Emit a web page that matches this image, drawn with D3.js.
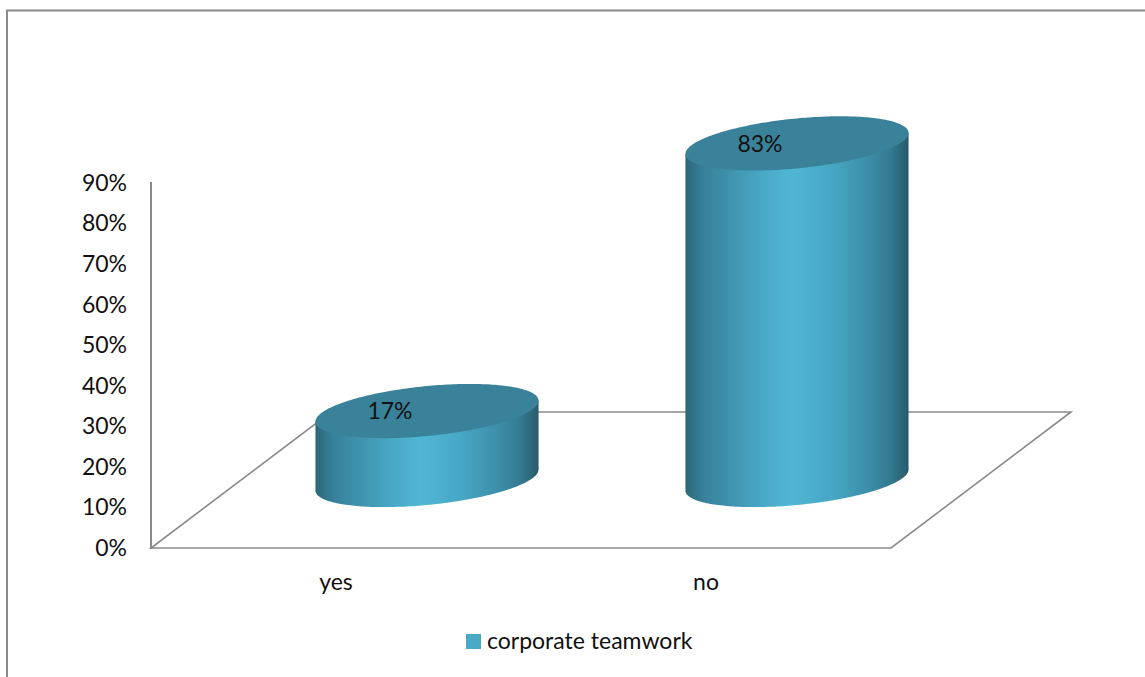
<!DOCTYPE html>
<html>
<head>
<meta charset="utf-8">
<script src="https://cdn.jsdelivr.net/npm/d3@7"></script>
<style>
  html, body { margin: 0; padding: 0; background: #fff; }
  svg { display: block; }
  text { font-family: Lato, "Open Sans", sans-serif; fill: #111; }
</style>
</head>
<body>
<svg id="chart" width="1145" height="677"></svg>
<script>
const categories = ["yes", "no"];
const shares = [0.17, 0.83];
const axisTicks = [0, 0.1, 0.2, 0.3, 0.4, 0.5, 0.6, 0.7, 0.8, 0.9];
const seriesName = "corporate teamwork";

const svg = d3.select("#chart");
const gray = "#8a8a8a";

// Front edge of the floor and the oblique offset of its back edge
const floorLeft = 151, floorRight = 891, floorFront = 548, floorBack = 412;
const depthX = 180, depthY = floorFront - floorBack;

const x = d3.scaleBand().domain(categories).range([floorLeft, floorRight]);
const y = d3.scaleLinear().domain([0, 0.9]).range([floorFront, 183]);

// Horizontal shading of the cylinder wall
const shade = svg.append("defs").append("linearGradient").attr("id", "wall");
[[0, "#2c6778"], [0.08, "#37809a"], [0.2, "#3f93ad"], [0.35, "#49a9c6"], [0.47, "#50b6d5"],
 [0.65, "#47a8c5"], [0.82, "#3d8ea8"], [0.92, "#347a90"], [1, "#285a6a"]]
  .forEach(([o, c]) => shade.append("stop").attr("offset", o).attr("stop-color", c));

// Outer frame; it runs off the right and bottom of the page
svg.append("path")
  .attr("d", "M7,680V10.5H1150")
  .attr("fill", "none").attr("stroke", gray).attr("stroke-width", 2);

// Floor parallelogram
svg.append("path")
  .attr("d", d3.line()([
    [floorLeft, floorFront], [floorRight, floorFront],
    [floorRight + depthX, floorBack], [floorLeft + depthX, floorBack]
  ]) + "Z")
  .attr("fill", "none").attr("stroke", gray).attr("stroke-width", 1.6);

// Vertical axis
const axis = svg.append("g")
  .attr("transform", `translate(${floorLeft},0)`)
  .call(d3.axisLeft(y).tickValues(axisTicks).tickFormat(d3.format(".0%")).tickSize(0).tickPadding(24));
axis.select(".domain").remove();
axis.selectAll("text").attr("font-size", 23).style("font-family", null);
svg.append("line")
  .attr("x1", floorLeft).attr("x2", floorLeft)
  .attr("y1", y(0.9) - 1).attr("y2", floorFront + 1)
  .attr("stroke", gray).attr("stroke-width", 2);

// Cylinders: each disc is a tilted ellipse, its tilt shown by the offset of the side tangents
const radiusX = x.bandwidth() * 0.3015, tilt = 10.5, radiusY = 25;
const discPoint = (cx, cy, t) => [
  cx + radiusX * Math.cos(t),
  cy - tilt * Math.cos(t) - radiusY * Math.sin(t)
];
const arcPath = d3.line();

const bars = svg.selectAll("g.cylinder")
  .data(categories.map((c, i) => ({ category: c, value: shares[i] })))
  .join("g").attr("class", "cylinder");

bars.each(function (d) {
  const g = d3.select(this);
  const cx = x(d.category) + x.bandwidth() / 2 + depthX / 2 + 1;
  const baseY = floorFront - depthY / 2;
  const topY = y(d.value) - depthY / 2;

  const front = d3.range(0, 121).map(i => discPoint(cx, baseY, Math.PI + Math.PI * i / 120));
  const wall = [discPoint(cx, topY, Math.PI), ...front, discPoint(cx, topY, 2 * Math.PI)];
  g.append("path").attr("d", arcPath(wall) + "Z").attr("fill", "url(#wall)");

  const disc = d3.range(0, 240).map(i => discPoint(cx, topY, 2 * Math.PI * i / 240));
  g.append("path").attr("d", arcPath(disc) + "Z").attr("fill", "#3a8299");

  g.append("text")
    .attr("x", cx - 37).attr("y", topY)
    .attr("dy", "0.36em")
    .attr("text-anchor", "middle")
    .attr("font-size", 23)
    .text(d3.format(".0%")(d.value));
});

// Category labels below the floor
svg.selectAll("text.category")
  .data(categories)
  .join("text")
  .attr("class", "category")
  .attr("x", d => x(d) + x.bandwidth() / 2)
  .attr("y", 590)
  .attr("text-anchor", "middle")
  .attr("font-size", 23)
  .text(d => d);

// Legend
svg.append("rect")
  .attr("x", 466).attr("y", 634).attr("width", 15).attr("height", 15)
  .attr("fill", "#4aaac6");
svg.append("text")
  .attr("x", 487).attr("y", 649)
  .attr("font-size", 23)
  .text(seriesName);
</script>
</body>
</html>
